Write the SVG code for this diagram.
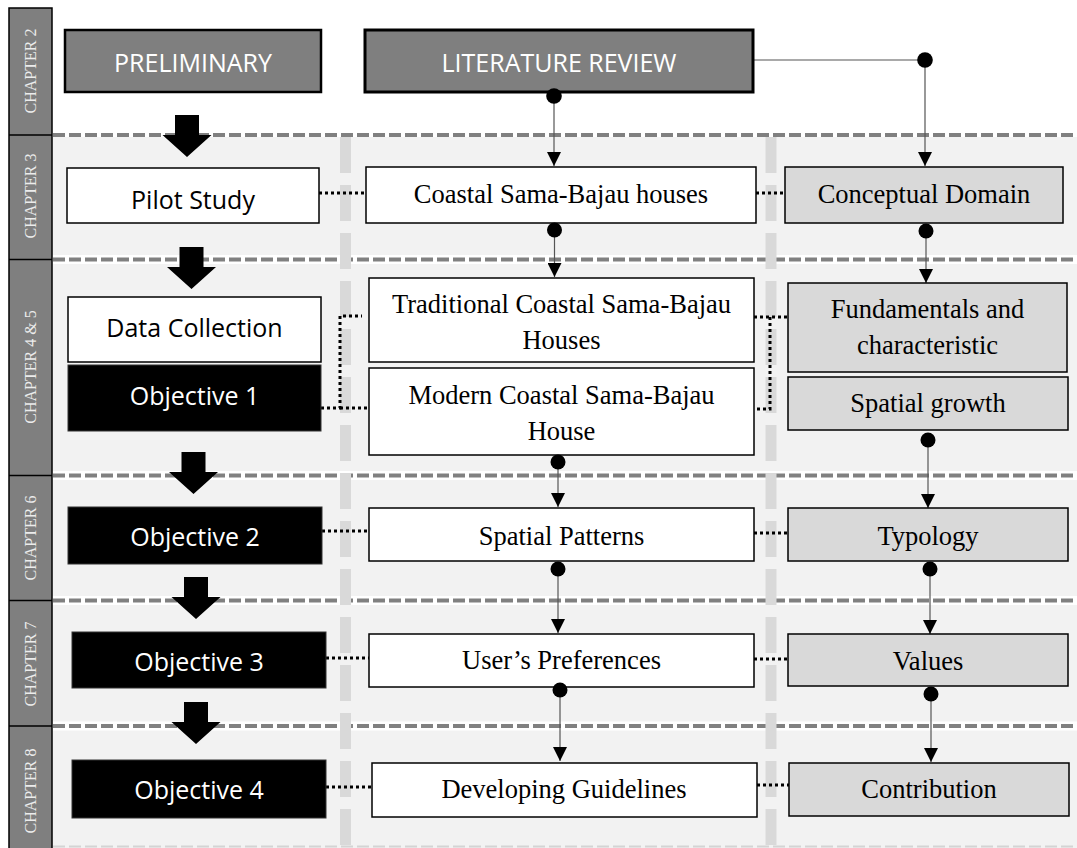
<svg xmlns="http://www.w3.org/2000/svg" width="1077" height="848" viewBox="0 0 1077 848">
<style>
.bg{fill:#f2f2f2}
.gap{fill:#ffffff}
.hd{stroke:#808080;stroke-width:4;stroke-dasharray:12 4;fill:none}
.vd{stroke:#d9d9d9;stroke-width:11;stroke-dasharray:36 12;fill:none}
.side{fill:#7f7f7f;stroke:#000;stroke-width:1.5}
.chap{font-family:"Liberation Serif","Times New Roman",serif;font-size:16px;fill:#ececec;text-anchor:middle}
.head{fill:#7f7f7f;stroke:#000}
.wbox{fill:#fff;stroke:#000;stroke-width:1.5}
.kbox{fill:#000;stroke:#333;stroke-width:1}
.gbox{fill:#d9d9d9;stroke:#000;stroke-width:1.5}
.sans{font-family:"Open Sans","Liberation Sans",sans-serif;font-size:25px;text-anchor:middle}
.serif{font-family:"Liberation Serif","Times New Roman",serif;font-size:26.5px;text-anchor:middle;fill:#000}
.white{fill:#fff}
.black{fill:#000}
.flow{stroke:#555;stroke-width:1.2;fill:none;marker-end:url(#tri)}
.dot{fill:#000}
.dots{stroke:#000;stroke-width:3;stroke-dasharray:3 3;fill:none}
.big{fill:#000}
</style>
<defs>
<marker id="tri" viewBox="0 0 14 14" refX="14" refY="7" markerWidth="14" markerHeight="14" markerUnits="userSpaceOnUse" orient="auto">
<path d="M0,0 L14,7 L0,14 Z" fill="#000"/>
</marker>
<path id="blk" d="M-12,0 H12 V20 H24.5 L0,42 L-24.5,20 H-12 Z"/>
</defs>

<g id="background">
<rect class="bg" x="52" y="137" width="1025" height="711"/>
<rect class="gap" x="52" y="255" width="1025" height="9"/>
<rect class="gap" x="52" y="471" width="1025" height="9"/>
<rect class="gap" x="52" y="596" width="1025" height="9"/>
<rect class="gap" x="52" y="721.5" width="1025" height="9"/>
<path class="hd" d="M53,135 H1077 M53,259.5 H1077 M53,475.5 H1077 M53,600.5 H1077 M53,726 H1077"/>
<path d="M53,846.5 H1077" stroke="#d4d4d4" stroke-width="2" stroke-dasharray="12 4"/>
<path class="vd" d="M345.5,137 V848 M771,137 V848"/>
</g>

<g id="sidebar">
<rect class="side" x="9" y="8" width="43" height="845"/>
<path d="M9,135 H52 M9,259.5 H52 M9,475.5 H52 M9,600.5 H52 M9,726 H52" stroke="#000" stroke-width="1.5"/>
<text class="chap" transform="translate(36,71) rotate(-90)">CHAPTER 2</text>
<text class="chap" transform="translate(36,196) rotate(-90)">CHAPTER 3</text>
<text class="chap" transform="translate(36,367) rotate(-90)">CHAPTER 4 &amp; 5</text>
<text class="chap" transform="translate(36,538) rotate(-90)">CHAPTER 6</text>
<text class="chap" transform="translate(36,664) rotate(-90)">CHAPTER 7</text>
<text class="chap" transform="translate(36,791) rotate(-90)">CHAPTER 8</text>
</g>

<g id="block-arrows">
<use href="#blk" class="big" x="187" y="115"/>
<use href="#blk" class="big" x="191.5" y="247"/>
<use href="#blk" class="big" x="193.5" y="452"/>
<use href="#blk" class="big" x="196" y="577"/>
<use href="#blk" class="big" x="196" y="702"/>
</g>

<g id="connectors">
<path class="dots" d="M319,193 H366"/>
<path class="dots" d="M756,193 H785"/>
<path class="dots" d="M321,408 H340 V316 H362"/>
<path class="dots" d="M340,408 H369"/>
<path class="dots" d="M754,317 H788 M770,317 V409 H754"/>
<path class="dots" d="M322,531 H369"/>
<path class="dots" d="M754,533 H788"/>
<path class="dots" d="M326,658 H369"/>
<path class="dots" d="M754,659 H788"/>
<path class="dots" d="M326,787 H372"/>
<path class="dots" d="M757,785 H789"/>

<path class="flow" d="M554,96 V166"/>
<path class="flow" d="M753,60 H925 V166"/>
<path class="flow" d="M554.5,230 V277"/>
<path class="flow" d="M926,231 V283"/>
<path class="flow" d="M558,462 V507"/>
<path class="flow" d="M928,440 V508"/>
<path class="flow" d="M558,569 V633"/>
<path class="flow" d="M930,569 V634"/>
<path class="flow" d="M560,690 V761"/>
<path class="flow" d="M931,694 V762"/>
</g>

<g id="preliminary">
<rect class="head" x="65" y="30" width="256" height="62" stroke-width="2.5"/>
<text class="sans white" x="193" y="72">PRELIMINARY</text>
</g>
<g id="literature-review">
<rect class="head" x="365" y="30" width="388" height="62" stroke-width="3"/>
<text class="sans white" x="559" y="72">LITERATURE REVIEW</text>
</g>

<g id="pilot-study">
<rect class="wbox" x="67" y="168" width="252" height="55"/>
<text class="sans black" x="193" y="209">Pilot Study</text>
</g>
<g id="coastal-houses">
<rect class="wbox" x="366" y="167" width="390" height="56"/>
<text class="serif" x="561" y="203">Coastal Sama-Bajau houses</text>
</g>
<g id="conceptual-domain">
<rect class="gbox" x="785" y="167" width="278" height="56"/>
<text class="serif" x="924" y="203">Conceptual Domain</text>
</g>

<g id="data-collection">
<rect class="wbox" x="68" y="297" width="253" height="65"/>
<text class="sans black" x="194.5" y="337">Data Collection</text>
</g>
<g id="objective-1">
<rect class="kbox" x="68" y="365" width="253" height="66"/>
<text class="sans white" x="194.5" y="405">Objective 1</text>
</g>
<g id="traditional">
<rect class="wbox" x="369" y="278" width="385" height="84"/>
<text class="serif" x="561.5" y="313">Traditional Coastal Sama-Bajau</text>
<text class="serif" x="561.5" y="349">Houses</text>
</g>
<g id="modern">
<rect class="wbox" x="369" y="368" width="385" height="87"/>
<text class="serif" x="561.5" y="404">Modern Coastal Sama-Bajau</text>
<text class="serif" x="561.5" y="440">House</text>
</g>
<g id="fundamentals">
<rect class="gbox" x="788" y="283" width="279" height="89"/>
<text class="serif" x="927.5" y="318">Fundamentals and</text>
<text class="serif" x="927.5" y="354">characteristic</text>
</g>
<g id="spatial-growth">
<rect class="gbox" x="788" y="377" width="280" height="53"/>
<text class="serif" x="928" y="412">Spatial growth</text>
</g>

<g id="objective-2">
<rect class="kbox" x="68" y="507" width="254" height="57"/>
<text class="sans white" x="195" y="546">Objective 2</text>
</g>
<g id="spatial-patterns">
<rect class="wbox" x="369" y="508" width="385" height="53"/>
<text class="serif" x="561.5" y="545">Spatial Patterns</text>
</g>
<g id="typology">
<rect class="gbox" x="788" y="508" width="280" height="53"/>
<text class="serif" x="928" y="545">Typology</text>
</g>

<g id="objective-3">
<rect class="kbox" x="72" y="632" width="254" height="56"/>
<text class="sans white" x="199" y="671">Objective 3</text>
</g>
<g id="users-preferences">
<rect class="wbox" x="369" y="634" width="385" height="53"/>
<text class="serif" x="561.5" y="669">User’s Preferences</text>
</g>
<g id="values">
<rect class="gbox" x="788" y="634" width="280" height="52"/>
<text class="serif" x="928" y="670">Values</text>
</g>

<g id="objective-4">
<rect class="kbox" x="72" y="760" width="254" height="58"/>
<text class="sans white" x="199" y="799">Objective 4</text>
</g>
<g id="developing-guidelines">
<rect class="wbox" x="372" y="763" width="385" height="54"/>
<text class="serif" x="564" y="798">Developing Guidelines</text>
</g>
<g id="contribution">
<rect class="gbox" x="789" y="763" width="280" height="53"/>
<text class="serif" x="929" y="798">Contribution</text>
</g>

<g id="dots">
<circle class="dot" cx="554" cy="96" r="7.8"/>
<circle class="dot" cx="925" cy="60" r="7.8"/>
<circle class="dot" cx="554.5" cy="230" r="7.5"/>
<circle class="dot" cx="926" cy="231" r="7.5"/>
<circle class="dot" cx="558" cy="462" r="7.5"/>
<circle class="dot" cx="928" cy="440" r="7.5"/>
<circle class="dot" cx="558" cy="569" r="7.5"/>
<circle class="dot" cx="930" cy="569" r="7.5"/>
<circle class="dot" cx="560" cy="690" r="7.5"/>
<circle class="dot" cx="931" cy="694" r="7.5"/>
</g>
</svg>
